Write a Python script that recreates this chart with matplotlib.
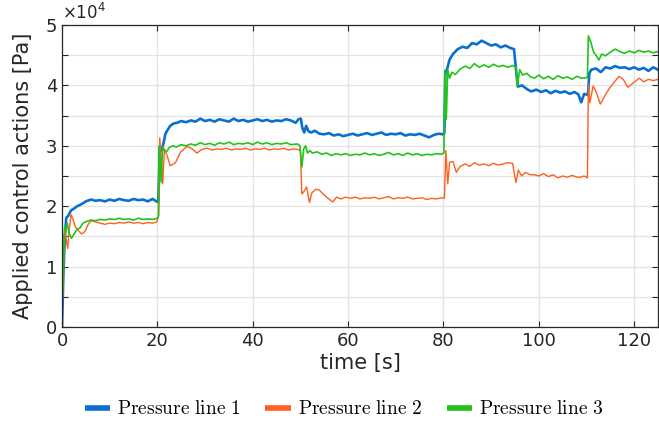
import numpy as np
import matplotlib
matplotlib.use('Agg')
import matplotlib.pyplot as plt
from matplotlib.font_manager import FontProperties
from matplotlib.ticker import MultipleLocator, FuncFormatter

# данные, значения в 1e4 Па
t1 = [0, 0.3, 0.6, 0.9, 1.3, 1.9, 2.5, 3.2, 4.0, 5.0, 6.1, 7, 8, 9, 10, 11, 12, 13, 14, 15, 16, 17, 18, 19,
      19.8, 20.2, 20.5, 20.9, 21.3, 21.7, 22.2, 22.7, 23.4, 24.1, 25, 26, 27, 28, 29, 30, 31, 32, 33, 34, 35,
      36, 37, 38, 39, 40, 41, 42, 43, 44, 45, 46, 47, 48, 49, 49.6, 50.1, 50.4, 50.8, 51.2, 51.7, 52.3, 53,
      54, 55, 56, 57, 58, 59, 60, 61, 62, 63, 64, 65, 66, 67, 68, 69, 70, 71, 72, 73, 74, 75, 76, 77, 78, 79,
      79.9, 80.2, 80.4, 80.8, 81.3, 82, 83, 84, 85, 86, 87, 88, 89, 90, 91, 92, 93, 94, 94.8, 95.3, 95.6,
      96.5, 97.5, 98.4, 99.5, 100.5, 101.5, 102.5, 103.5, 104.5, 105.5, 106.5, 107.5, 108.3, 108.9, 109.5,
      110.3, 110.6, 111, 112, 113, 114, 115, 116, 117, 118, 119, 120, 121, 122, 123, 124, 125]
p1 = [0.0, 0.9, 1.5, 1.81, 1.84, 1.93, 1.96, 2.0, 2.03, 2.08, 2.11, 2.09, 2.1, 2.08, 2.11, 2.09, 2.12, 2.1,
      2.09, 2.12, 2.1, 2.11, 2.08, 2.12, 2.08, 2.07, 2.98, 2.92, 3.05, 3.2, 3.27, 3.33, 3.37, 3.38, 3.41, 3.39,
      3.42, 3.4, 3.45, 3.41, 3.43, 3.4, 3.44, 3.42, 3.4, 3.45, 3.41, 3.43, 3.4, 3.42, 3.44, 3.41, 3.43, 3.4,
      3.42, 3.41, 3.44, 3.42, 3.38, 3.44, 3.45, 3.3, 3.22, 3.33, 3.24, 3.22, 3.25, 3.2, 3.19, 3.21, 3.17,
      3.19, 3.16, 3.18, 3.2, 3.17, 3.19, 3.21, 3.18, 3.2, 3.22, 3.18, 3.2, 3.19, 3.21, 3.17, 3.19, 3.18, 3.2,
      3.17, 3.14, 3.18, 3.2, 3.19, 3.21, 4.2, 4.28, 4.43, 4.52, 4.6, 4.64, 4.62, 4.7, 4.68, 4.74, 4.7, 4.66,
      4.68, 4.63, 4.66, 4.62, 4.6, 4.2, 3.98, 4.0, 3.94, 3.9, 3.93, 3.89, 3.92, 3.87, 3.91, 3.88, 3.9, 3.86,
      3.89, 3.85, 3.72, 3.86, 3.84, 4.2, 4.26, 4.28, 4.22, 4.3, 4.28, 4.32, 4.29, 4.3, 4.27, 4.3, 4.26, 4.29,
      4.24, 4.3, 4.26]

t2 = [0, 0.3, 0.6, 0.9, 1.2, 1.5, 1.9, 2.3, 2.8, 3.4, 4.1, 4.8, 5.5, 6.1, 7, 8, 9, 10, 11, 12, 13, 14, 15,
      16, 17, 18, 19, 19.9, 20.3, 20.5, 20.8, 21.1, 21.5, 22, 22.7, 23.8, 24.8, 26.2, 27.3, 28.3, 29.3, 30.5,
      31.5, 32.5, 33.5, 34.5, 35.5, 36.5, 37.5, 38.5, 39.5, 40.5, 41.5, 42.5, 43.5, 44.5, 45.5, 46.5, 47.5,
      48.5, 49.5, 50.0, 50.3, 50.8, 51.3, 51.9, 52.4, 53.2, 53.9, 54.8, 55.8, 56.8, 57.6, 58.5, 59.5, 60.5,
      61.5, 62.5, 63.5, 64.5, 65.5, 66.5, 67.5, 68.5, 69.5, 70.5, 71.5, 72.5, 73.5, 74.5, 75.5, 76.5, 77.5,
      78.5, 79.5, 80.2, 80.5, 80.9, 81.3, 82, 82.7, 83.5, 84.6, 85.5, 86.5, 87.5, 88.5, 89.5, 90.5, 91.5,
      92.5, 93.5, 94.5, 95.2, 95.7, 96.4, 97.2, 98.2, 99.1, 100, 101, 102, 103, 104, 105, 106, 107, 108,
      108.7, 109.5, 110.2, 110.4, 110.7, 111.4, 112, 112.9, 113.8, 114.8, 115.7, 116.8, 117.7, 118.7,
      119.8, 121.1, 122, 123, 124, 125]
p2 = [0.3, 0.9, 1.65, 1.45, 1.3, 1.6, 1.86, 1.78, 1.66, 1.6, 1.54, 1.58, 1.7, 1.76, 1.74, 1.72, 1.7, 1.72,
      1.71, 1.73, 1.72, 1.74, 1.72, 1.73, 1.71, 1.73, 1.72, 1.74, 1.85, 3.13, 2.8, 2.37, 2.95, 2.85, 2.67,
      2.72, 2.89, 2.99, 2.95, 2.88, 2.94, 2.96, 2.93, 2.95, 2.94, 2.96, 2.93, 2.95, 2.94, 2.96, 2.93, 2.95,
      2.94, 2.96, 2.93, 2.95, 2.94, 2.96, 2.93, 2.95, 2.94, 2.92, 2.2, 2.25, 2.32, 2.06, 2.22, 2.28, 2.27,
      2.2, 2.13, 2.07, 2.15, 2.12, 2.15, 2.13, 2.15, 2.12, 2.14, 2.13, 2.15, 2.12, 2.14, 2.16, 2.12, 2.14,
      2.13, 2.15, 2.12, 2.13, 2.14, 2.11, 2.13, 2.12, 2.14, 2.13, 2.92, 2.37, 2.73, 2.74, 2.56, 2.66, 2.7,
      2.66, 2.72, 2.68, 2.7, 2.67, 2.71, 2.68, 2.7, 2.72, 2.71, 2.39, 2.6, 2.5, 2.56, 2.52, 2.52, 2.5, 2.54,
      2.49, 2.52, 2.47, 2.5, 2.48, 2.51, 2.48, 2.48, 2.5, 2.47, 4.03, 3.71, 3.99, 3.9, 3.69, 3.82, 3.95,
      4.04, 4.15, 4.1, 3.97, 4.04, 4.12, 4.06, 4.1, 4.08, 4.1]

t3 = [0, 0.3, 0.55, 0.8, 1.1, 1.5, 2.0, 2.6, 3.2, 3.8, 4.4, 5.2, 6.1, 7, 8, 9, 10, 11, 12, 13, 14, 15, 16,
      17, 18, 19, 20.0, 20.2, 20.4, 20.6, 20.8, 21.1, 21.5, 21.9, 22.5, 23.2, 24, 25, 26, 27, 28, 29, 30, 31,
      32, 33, 34, 35, 36, 37, 38, 39, 40, 41, 42, 43, 44, 45, 46, 47, 48, 49.4, 49.9, 50.3, 50.7, 51.1, 51.5,
      52, 52.5, 53.5, 54.5, 55.5, 56.5, 57.5, 58.5, 59.5, 60.5, 61.5, 62.5, 63.5, 64.5, 65.5, 66.5, 67.5,
      68.5, 69.5, 70.5, 71.5, 72.5, 73.5, 74.5, 75.5, 76.5, 77.5, 78.5, 79.5, 80.1, 80.3, 80.6, 80.9, 81.3,
      81.8, 82.5, 83.5, 84.6, 85.5, 86.5, 87.5, 88.5, 89.5, 90.5, 91.5, 92.5, 93.5, 94.5, 95.2, 95.5, 96,
      96.6, 97.5, 98.3, 99.1, 100, 101, 102, 103, 104, 105, 106, 107, 108, 109, 110.2, 110.4, 110.9, 111.5,
      112, 112.6, 113.2, 114, 115, 116, 117, 118, 119, 120, 121, 122, 123, 124, 125]
p3 = [0.35, 1.0, 1.65, 1.6, 1.72, 1.55, 1.47, 1.55, 1.62, 1.64, 1.72, 1.75, 1.77, 1.76, 1.78, 1.77, 1.79,
      1.78, 1.8, 1.78, 1.79, 1.77, 1.8, 1.78, 1.79, 1.78, 1.8, 1.82, 3.0, 2.7, 2.4, 2.98, 2.92, 2.9, 2.97,
      3.0, 2.98, 3.02, 3.0, 3.03, 3.01, 3.05, 3.02, 3.04, 3.01, 3.05, 3.03, 3.06, 3.02, 3.04, 3.03, 3.05,
      3.02, 3.06, 3.03, 3.05, 3.02, 3.04, 3.03, 3.05, 3.02, 3.03, 3.0, 2.65, 2.95, 3.0, 2.88, 2.92, 2.88,
      2.9, 2.86, 2.88, 2.84, 2.87, 2.85, 2.87, 2.84, 2.86, 2.85, 2.88, 2.85, 2.87, 2.84, 2.86, 2.89, 2.85,
      2.87, 2.84, 2.88, 2.85, 2.87, 2.84, 2.86, 2.85, 2.87, 2.86, 2.88, 4.25, 3.44, 4.26, 4.12, 4.22, 4.18,
      4.27, 4.32, 4.28, 4.36, 4.3, 4.34, 4.3, 4.35, 4.31, 4.33, 4.3, 4.33, 4.3, 3.98, 4.26, 4.17, 4.2, 4.14,
      4.12, 4.17, 4.11, 4.15, 4.1, 4.16, 4.12, 4.14, 4.1, 4.15, 4.12, 4.13, 4.82, 4.72, 4.55, 4.5, 4.42,
      4.52, 4.49, 4.55, 4.6, 4.56, 4.53, 4.57, 4.54, 4.58, 4.55, 4.57, 4.54, 4.56]

labels = ['Pressure line 1', 'Pressure line 2', 'Pressure line 3']
cols = ['#0A6FCF', '#FF5F1F', '#22C31A']

W, H = 659, 422
fig = plt.figure(figsize=(W / 100, H / 100), dpi=100)
ax = fig.add_axes([62 / W, 95 / H, 596 / W, 302 / H])

ax.plot(t1, np.array(p1) * 1e4, color=cols[0], lw=1.9, label=labels[0])
ax.plot(t2, np.array(p2) * 1e4, color=cols[1], lw=1.0, label=labels[1])
ax.plot(t3, np.array(p3) * 1e4, color=cols[2], lw=1.2, label=labels[2])

ax.set_xlim(0, 125)
ax.set_ylim(0, 5e4)
ax.xaxis.set_major_locator(MultipleLocator(20))
ax.yaxis.set_major_locator(MultipleLocator(1e4))
ax.yaxis.set_minor_locator(MultipleLocator(0.5e4))
ax.yaxis.set_major_formatter(FuncFormatter(lambda v, p: '%g' % (v / 1e4)))
ax.grid(True, which='both', color='#e3e3e3', lw=0.9)
ax.set_axisbelow(True)
ax.tick_params(which='both', direction='in', top=True, right=True, colors='#262626',
               labelsize=13, length=4, width=0.8)
for s in ax.spines.values():
    s.set_color('#262626')
    s.set_linewidth(0.9)

ax.text(0.0, 1.005, '\u00d710$^4$', transform=ax.transAxes, fontsize=12, color='#262626',
        ha='left', va='bottom')
ax.set_xlabel('time [s]', fontsize=15, color='#262626', labelpad=2)
ax.set_ylabel('Applied control actions [Pa]', fontsize=15, color='#262626', labelpad=9)

leg_font = FontProperties(size=14, math_fontfamily='cm')
handles = ax.get_lines()
leg = fig.legend(handles, [r'$\mathrm{%s}$' % l.replace(' ', r'\ ') for l in labels],
                 loc='center', bbox_to_anchor=(344 / W, 13 / H), ncol=3, frameon=False,
                 prop=leg_font, handlelength=1.3, columnspacing=1.3, handletextpad=0.35)
for lh in leg.get_lines():
    lh.set_linewidth(4)
    lh.set_solid_capstyle('butt')

fig.savefig('out.png', dpi=100)
